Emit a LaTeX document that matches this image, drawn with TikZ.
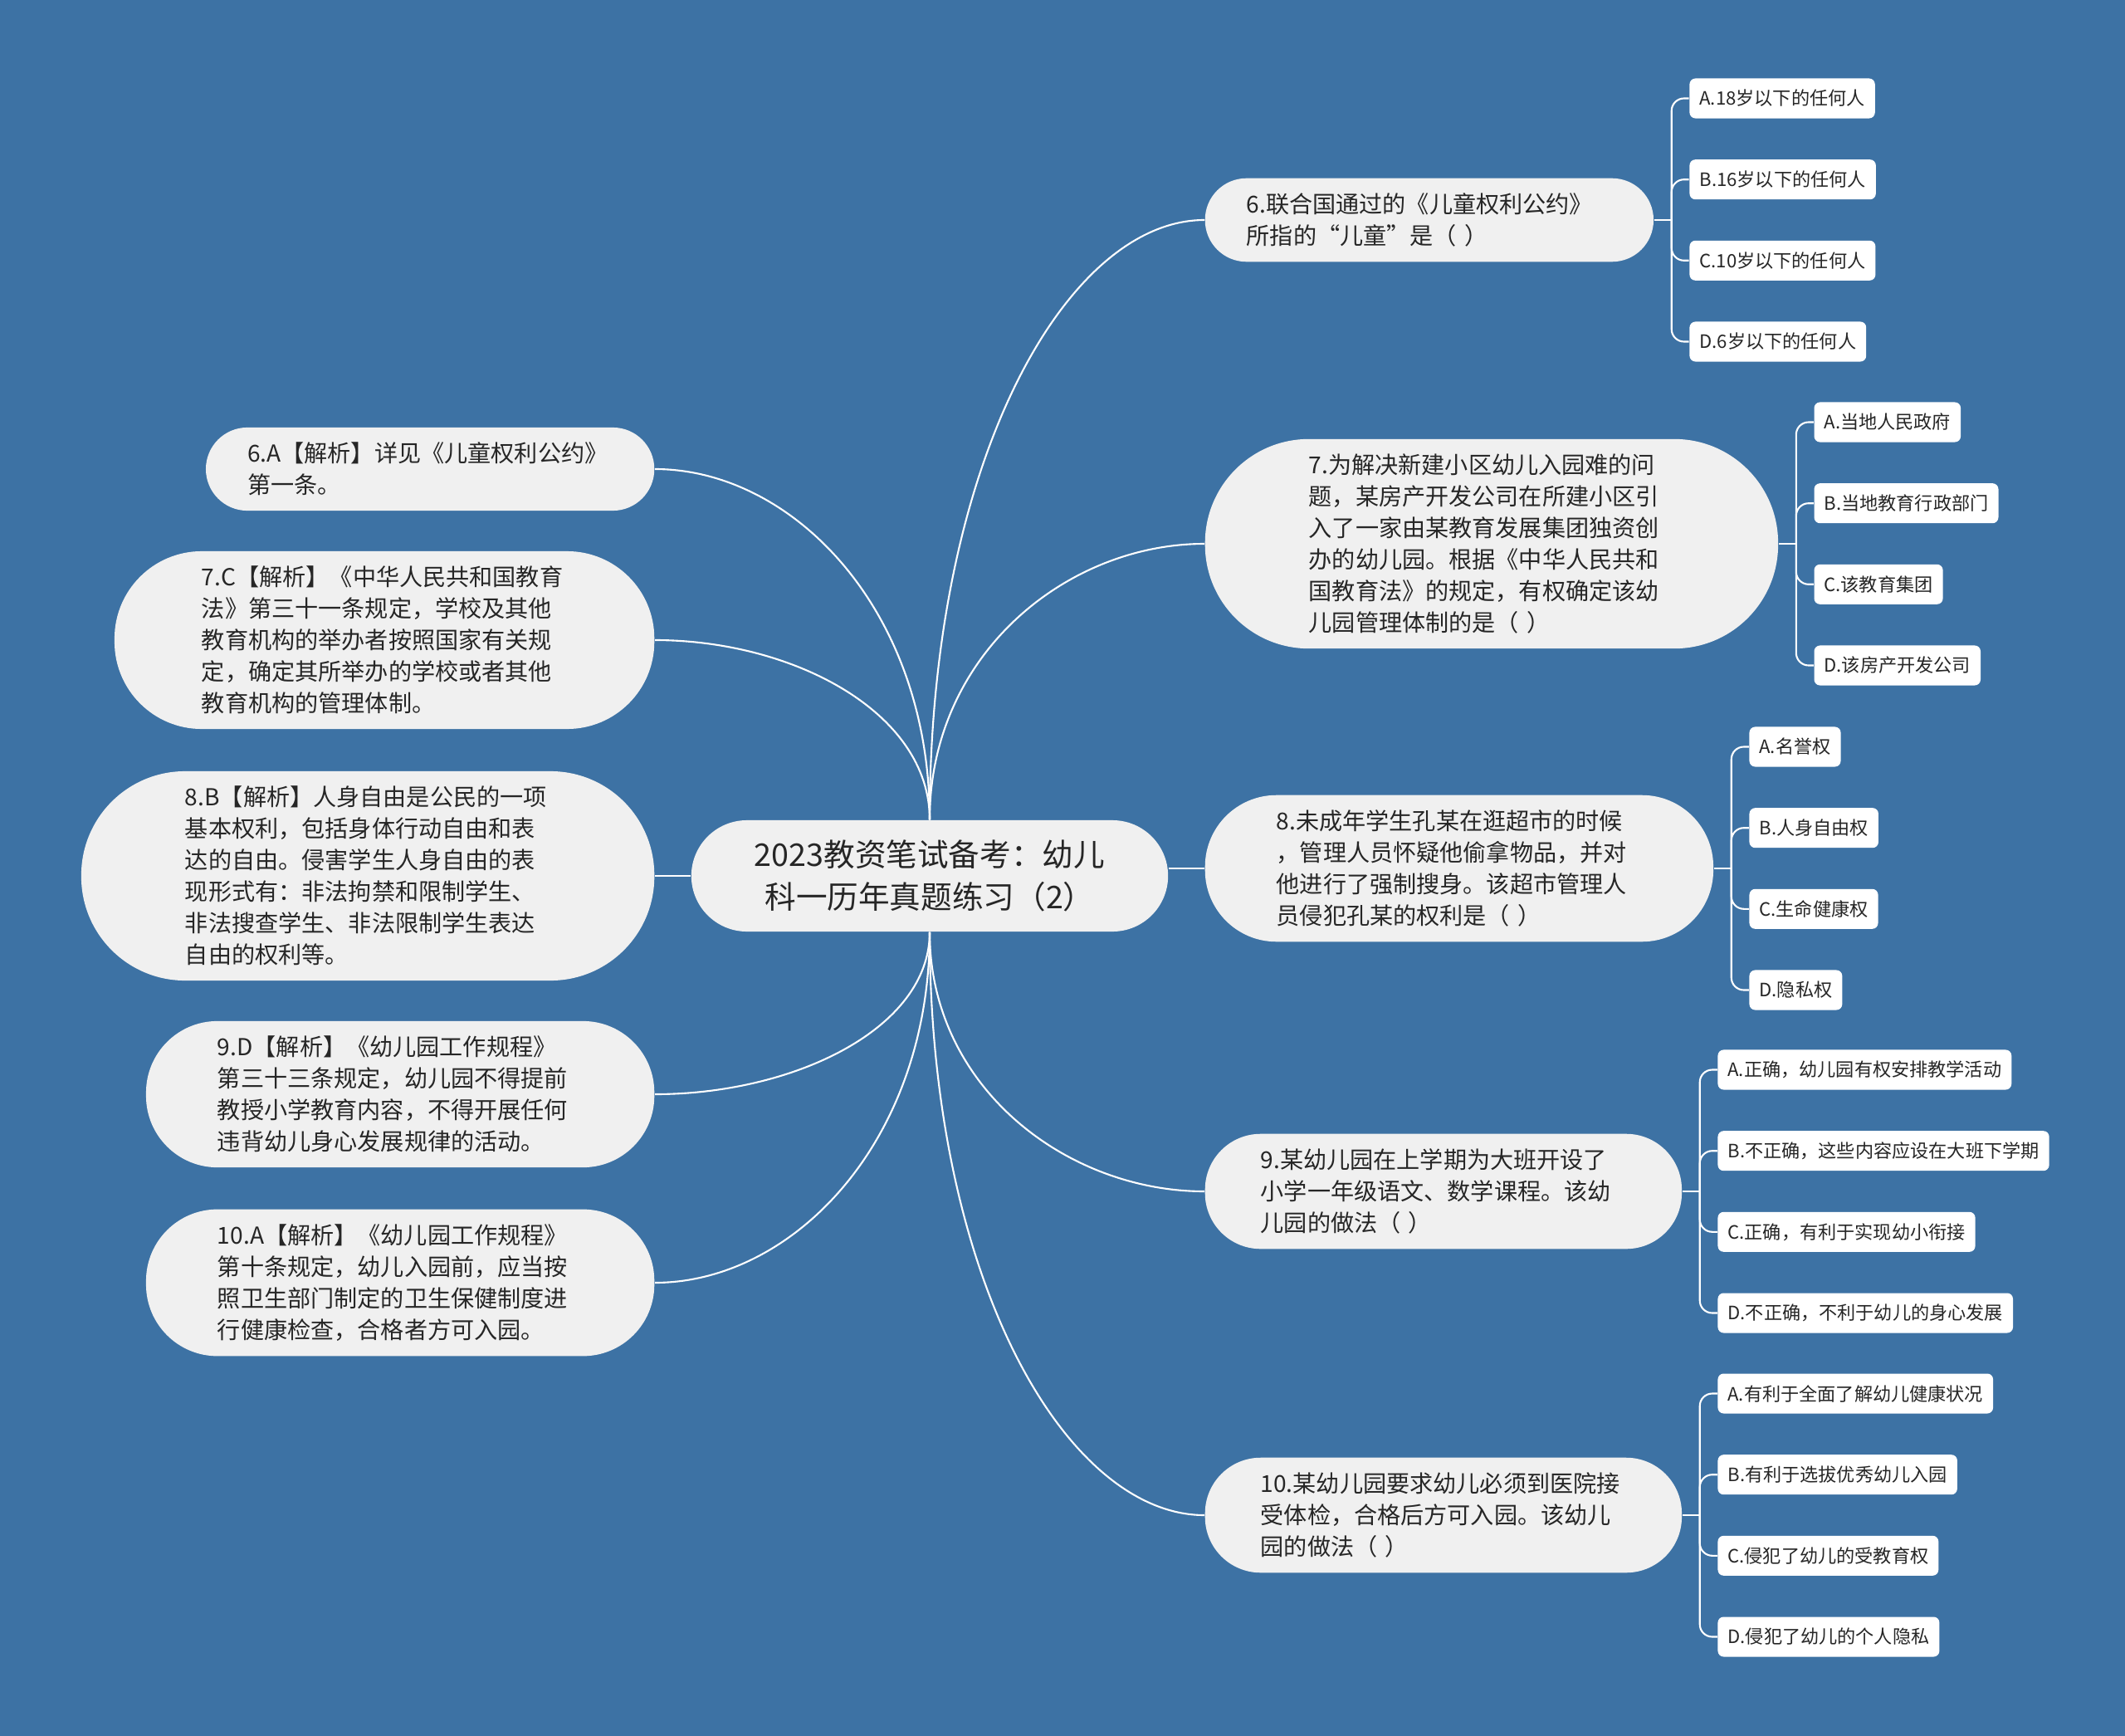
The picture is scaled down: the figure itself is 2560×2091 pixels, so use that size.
\documentclass[tikz,border=0pt]{standalone}
\usepackage{fontspec}
\setmainfont{Noto Sans CJK SC}
\usepackage{xcolor}
\usepackage{tikz}
\usetikzlibrary{calc}

\definecolor{bgblue}{RGB}{61,114,164}
\definecolor{pillgray}{RGB}{240,240,240}
\definecolor{inkgray}{RGB}{38,38,38}

\begin{document}
\begin{tikzpicture}[x=0.01cm,y=0.01cm,
  pill/.style={rectangle,rounded corners=#1,inner xsep=#1,fill=pillgray,text=inkgray,inner ysep=0.18cm,text width=4.4cm,align=left,font=\fontsize{8pt}{10.8pt}\selectfont},
  rootpill/.style={pill=0.67cm,inner ysep=0.24cm,align=center,font=\fontsize{10.7pt}{14.4pt}\selectfont},
  choice/.style={rectangle,rounded corners=0.07cm,fill=white,text=inkgray,anchor=west,inner xsep=0.12cm,inner ysep=0.04cm,minimum height=0.48cm,font=\fontsize{6.3pt}{8pt}\selectfont},
  limb/.style={to path={.. controls ($(\tikztostart)!0.6!(\tikztostart|-\tikztotarget)$) and ($(\tikztostart|-\tikztotarget)!0.5!(\tikztotarget)$) .. (\tikztotarget)}},
  wire/.style={draw=white,line width=0.6pt}]
  \fill[bgblue] (0,0) rectangle (2560,-2091);

  % centre
  \node[rootpill] (ctr) at (1120,-1055) {2023教资笔试备考：幼儿\\科一历年真题练习（2）};

  % questions on the right
  \node[pill=0.5cm,anchor=west] (q6) at (1451,-265) {6.联合国通过的《儿童权利公约》\\所指的“儿童”是（ ）};
  \node[pill=1.25cm,anchor=west] (q7) at (1451,-655) {7.为解决新建小区幼儿入园难的问\\题，某房产开发公司在所建小区引\\入了一家由某教育发展集团独资创\\办的幼儿园。根据《中华人民共和\\国教育法》的规定，有权确定该幼\\儿园管理体制的是（ ）};
  \node[pill=0.86cm,anchor=west] (q8) at (1451,-1046) {8.未成年学生孔某在逛超市的时候\\，管理人员怀疑他偷拿物品，并对\\他进行了强制搜身。该超市管理人\\员侵犯孔某的权利是（ ）};
  \node[pill=0.67cm,anchor=west] (q9) at (1451,-1435) {9.某幼儿园在上学期为大班开设了\\小学一年级语文、数学课程。该幼\\儿园的做法（ ）};
  \node[pill=0.67cm,anchor=west] (q10) at (1451,-1825) {10.某幼儿园要求幼儿必须到医院接\\受体检，合格后方可入园。该幼儿\\园的做法（ ）};

  % answers on the left
  \node[pill=0.5cm,anchor=east] (a6) at (789,-565) {6.A【解析】详见《儿童权利公约》\\第一条。};
  \node[pill=1.05cm,anchor=east] (a7) at (789,-771) {7.C【解析】《中华人民共和国教育\\法》第三十一条规定，学校及其他\\教育机构的举办者按照国家有关规\\定，确定其所举办的学校或者其他\\教育机构的管理体制。};
  \node[pill=1.25cm,anchor=east] (a8) at (789,-1055) {8.B【解析】人身自由是公民的一项\\基本权利，包括身体行动自由和表\\达的自由。侵害学生人身自由的表\\现形式有：非法拘禁和限制学生、\\非法搜查学生、非法限制学生表达\\自由的权利等。};
  \node[pill=0.86cm,anchor=east] (a9) at (789,-1318) {9.D【解析】《幼儿园工作规程》\\第三十三条规定，幼儿园不得提前\\教授小学教育内容，不得开展任何\\违背幼儿身心发展规律的活动。};
  \node[pill=0.86cm,anchor=east] (a10) at (789,-1545) {10.A【解析】《幼儿园工作规程》\\第十条规定，幼儿入园前，应当按\\照卫生部门制定的卫生保健制度进\\行健康检查，合格者方可入园。};

  % options
  \node[choice] (q6a) at ($(q6.east)+(42,146.5)$) {A.18岁以下的任何人};
  \node[choice] (q6b) at ($(q6.east)+(42,48.8)$) {B.16岁以下的任何人};
  \node[choice] (q6c) at ($(q6.east)+(42,-48.8)$) {C.10岁以下的任何人};
  \node[choice] (q6d) at ($(q6.east)+(42,-146.5)$) {D.6岁以下的任何人};
  \node[choice] (q7a) at ($(q7.east)+(42,146.5)$) {A.当地人民政府};
  \node[choice] (q7b) at ($(q7.east)+(42,48.8)$) {B.当地教育行政部门};
  \node[choice] (q7c) at ($(q7.east)+(42,-48.8)$) {C.该教育集团};
  \node[choice] (q7d) at ($(q7.east)+(42,-146.5)$) {D.该房产开发公司};
  \node[choice] (q8a) at ($(q8.east)+(42,146.5)$) {A.名誉权};
  \node[choice] (q8b) at ($(q8.east)+(42,48.8)$) {B.人身自由权};
  \node[choice] (q8c) at ($(q8.east)+(42,-48.8)$) {C.生命健康权};
  \node[choice] (q8d) at ($(q8.east)+(42,-146.5)$) {D.隐私权};
  \node[choice] (q9a) at ($(q9.east)+(42,146.5)$) {A.正确，幼儿园有权安排教学活动};
  \node[choice] (q9b) at ($(q9.east)+(42,48.8)$) {B.不正确，这些内容应设在大班下学期};
  \node[choice] (q9c) at ($(q9.east)+(42,-48.8)$) {C.正确，有利于实现幼小衔接};
  \node[choice] (q9d) at ($(q9.east)+(42,-146.5)$) {D.不正确，不利于幼儿的身心发展};
  \node[choice] (q10a) at ($(q10.east)+(42,146.5)$) {A.有利于全面了解幼儿健康状况};
  \node[choice] (q10b) at ($(q10.east)+(42,48.8)$) {B.有利于选拔优秀幼儿入园};
  \node[choice] (q10c) at ($(q10.east)+(42,-48.8)$) {C.侵犯了幼儿的受教育权};
  \node[choice] (q10d) at ($(q10.east)+(42,-146.5)$) {D.侵犯了幼儿的个人隐私};

  % branches from the centre
  \draw[wire] (ctr.north) to[limb] (q6.west);
  \draw[wire] (ctr.north) to[limb] (q7.west);
  \draw[wire] (ctr.east|-q8.west) -- (q8.west);
  \draw[wire] (ctr.south) to[limb] (q9.west);
  \draw[wire] (ctr.south) to[limb] (q10.west);
  \draw[wire] (ctr.north) to[limb] (a6.east);
  \draw[wire] (ctr.north) to[limb] (a7.east);
  \draw[wire] (ctr.west) -- (a8.east);
  \draw[wire] (ctr.south) to[limb] (a9.east);
  \draw[wire] (ctr.south) to[limb] (a10.east);

  % brackets to the options
  \coordinate (q6j) at ($(q6.east)+(21,0)$);
  \coordinate (q7j) at ($(q7.east)+(21,0)$);
  \coordinate (q8j) at ($(q8.east)+(21,0)$);
  \coordinate (q9j) at ($(q9.east)+(21,0)$);
  \coordinate (q10j) at ($(q10.east)+(21,0)$);
  \draw[wire] (q6.east) -- (q6j);
  \draw[wire] (q7.east) -- (q7j);
  \draw[wire] (q8.east) -- (q8j);
  \draw[wire] (q9.east) -- (q9j);
  \draw[wire] (q10.east) -- (q10j);
  \draw[wire,rounded corners=0.15cm] (q6j) |- (q6a.west);
  \draw[wire,rounded corners=0.15cm] (q6j) |- (q6b.west);
  \draw[wire,rounded corners=0.15cm] (q6j) |- (q6c.west);
  \draw[wire,rounded corners=0.15cm] (q6j) |- (q6d.west);
  \draw[wire,rounded corners=0.15cm] (q7j) |- (q7a.west);
  \draw[wire,rounded corners=0.15cm] (q7j) |- (q7b.west);
  \draw[wire,rounded corners=0.15cm] (q7j) |- (q7c.west);
  \draw[wire,rounded corners=0.15cm] (q7j) |- (q7d.west);
  \draw[wire,rounded corners=0.15cm] (q8j) |- (q8a.west);
  \draw[wire,rounded corners=0.15cm] (q8j) |- (q8b.west);
  \draw[wire,rounded corners=0.15cm] (q8j) |- (q8c.west);
  \draw[wire,rounded corners=0.15cm] (q8j) |- (q8d.west);
  \draw[wire,rounded corners=0.15cm] (q9j) |- (q9a.west);
  \draw[wire,rounded corners=0.15cm] (q9j) |- (q9b.west);
  \draw[wire,rounded corners=0.15cm] (q9j) |- (q9c.west);
  \draw[wire,rounded corners=0.15cm] (q9j) |- (q9d.west);
  \draw[wire,rounded corners=0.15cm] (q10j) |- (q10a.west);
  \draw[wire,rounded corners=0.15cm] (q10j) |- (q10b.west);
  \draw[wire,rounded corners=0.15cm] (q10j) |- (q10c.west);
  \draw[wire,rounded corners=0.15cm] (q10j) |- (q10d.west);
\end{tikzpicture}
\end{document}
